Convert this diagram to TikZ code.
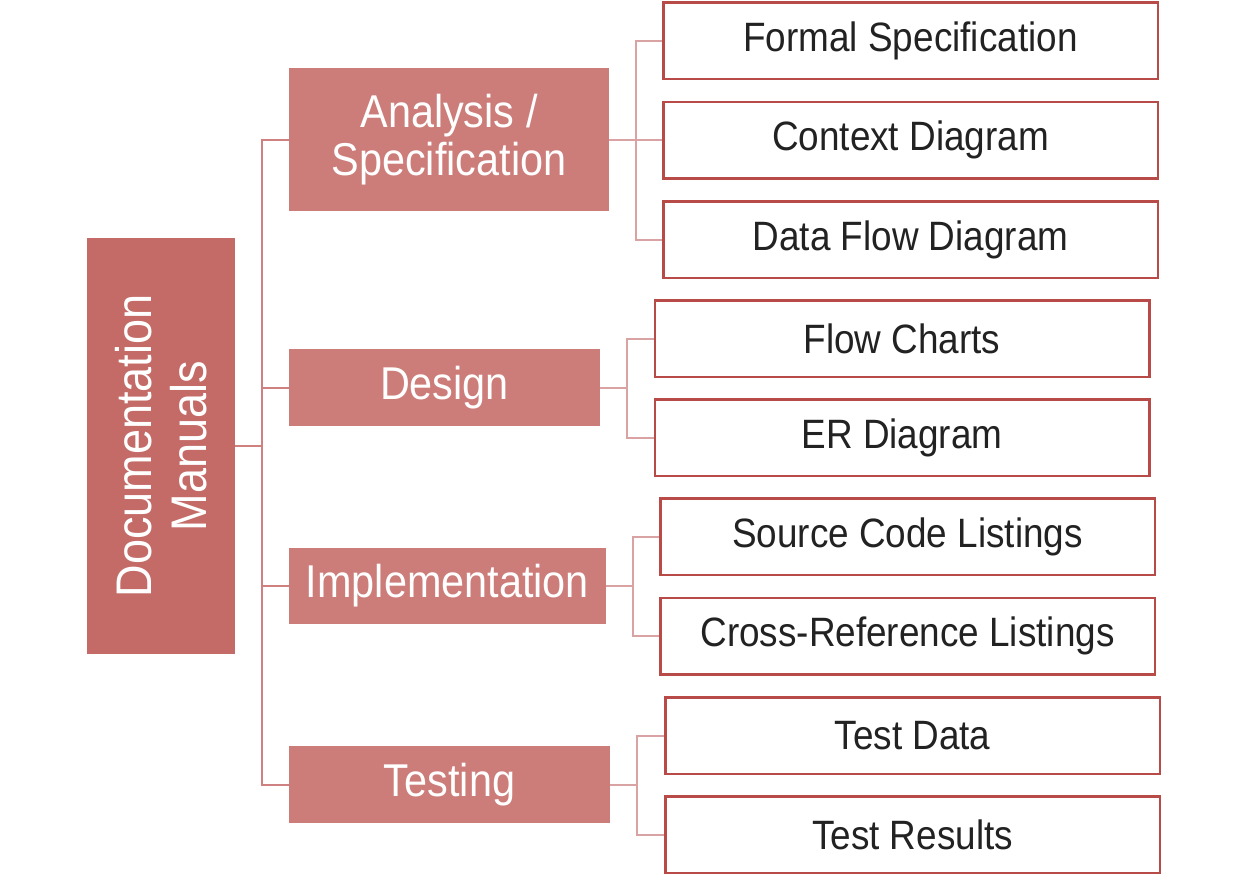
\documentclass[tikz,border=0pt]{standalone}
\usepackage{fontspec}
\setmainfont[FakeStretch=0.9]{Liberation Sans}
\definecolor{rootc}{HTML}{C46B67}
\definecolor{lonec}{HTML}{CD7D79}
\definecolor{bordc}{HTML}{B84A47}
\definecolor{conone}{HTML}{CF8080}
\definecolor{contwo}{HTML}{D9A3A3}
\definecolor{txtc}{HTML}{222222}
\tikzset{
  rootbox/.style={fill=rootc, draw=none, text=white, font=\fontsize{50}{55}\selectfont, align=center, inner sep=0pt},
  lonebox/.style={fill=lonec, draw=none, text=white, font=\fontsize{46}{48}\selectfont, align=center, inner sep=0pt},
  ltwobox/.style={fill=white, draw=bordc, line width=2.5pt, text=txtc, font=\fontsize{41}{44}\selectfont, minimum width=494.5pt, minimum height=76.5pt, inner sep=0pt},
  conA/.style={draw=conone, line width=2pt},
  conB/.style={draw=contwo, line width=2pt},
}
\begin{document}
\begin{tikzpicture}[x=1pt,y=-1pt]
\useasboundingbox (0,0) rectangle (1247,884);
% root
\node[rootbox, minimum width=416pt, minimum height=148pt, rotate=90] (root) at (161,446) {Documentation\\Manuals};
% level 1
\node[lonebox, minimum width=320pt, minimum height=143pt] (ana) at (449,139.5) {Analysis /\\Specification};
\node[lonebox, minimum width=311pt, minimum height=77pt] (des) at (444.5,387.5) {Design};
\node[lonebox, minimum width=317pt, minimum height=76pt] (imp) at (447.5,586) {Implementation};
\node[lonebox, minimum width=321pt, minimum height=77pt] (tes) at (449.5,784.5) {Testing};
% level 2
\node[ltwobox] (fs) at (910.5,40.5) {Formal Specification};
\node[ltwobox] (cd) at (910.5,140) {Context Diagram};
\node[ltwobox] (df) at (910.5,239.5) {Data Flow Diagram};
\node[ltwobox] (fc) at (902,338.5) {Flow Charts};
\node[ltwobox] (er) at (902,437.5) {ER Diagram};
\node[ltwobox] (sc) at (907.5,536.5) {Source Code Listings};
\node[ltwobox] (cr) at (907.5,636) {Cross-Reference Listings};
\node[ltwobox] (td) at (912.5,735.5) {Test Data};
\node[ltwobox] (tr) at (912.5,834.5) {Test Results};
% root connectors
\coordinate (rj) at (262,446);
\draw[conA] (root.south) -- (rj);
\foreach \n in {ana,des,imp,tes} \draw[conA] (rj) |- (\n.west);
% level 2 connectors
\coordinate (aj) at (636,139.5);
\draw[conB] (ana.east) -- (aj);
\foreach \n in {fs,cd,df} \draw[conB] (aj) |- (\n.west);
\coordinate (dj) at (627,387.5);
\draw[conB] (des.east) -- (dj);
\foreach \n in {fc,er} \draw[conB] (dj) |- (\n.west);
\coordinate (ij) at (633,586);
\draw[conB] (imp.east) -- (ij);
\foreach \n in {sc,cr} \draw[conB] (ij) |- (\n.west);
\coordinate (tj) at (637,784.5);
\draw[conB] (tes.east) -- (tj);
\foreach \n in {td,tr} \draw[conB] (tj) |- (\n.west);
\end{tikzpicture}
\end{document}
